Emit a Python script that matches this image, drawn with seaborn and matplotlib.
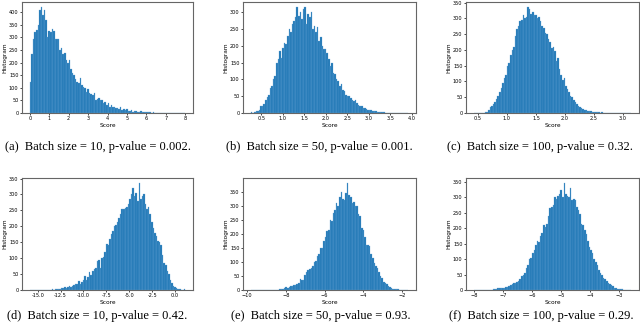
import numpy as np
import pandas as pd
import matplotlib
matplotlib.use("Agg")
import matplotlib.pyplot as plt
import seaborn as sns
from matplotlib.ticker import MultipleLocator, FormatStrFormatter

# bin counts (100 equal bins per panel)
a_range = (0.0, 8.0)
a_counts = [125, 235, 295, 320, 330, 350, 410, 420, 390, 410,
            370, 300, 325, 320, 335, 325, 295, 295, 295, 250,
            260, 235, 240, 210, 200, 210, 175, 160, 150, 135,
            125, 120, 140, 110, 105, 100, 85, 95, 80, 75,
            70, 80, 50, 55, 58, 50, 52, 40, 45, 30,
            38, 25, 30, 22, 25, 18, 20, 15, 22, 12,
            14, 10, 15, 8, 8, 12, 5, 6, 8, 4,
            4, 6, 3, 4, 5, 3, 2, 2, 1, 2,
            1, 1, 1, 0, 1, 1, 0, 1, 0, 0,
            1, 0, 1, 0, 0, 0, 1, 0, 0, 1]

b_range = (0.257, 3.91)
b_counts = [2, 0, 3, 5, 6, 10, 20, 22, 28, 40, 48,
            55, 75, 80, 100, 110, 150, 160, 185, 165, 195,
            210, 205, 230, 250, 240, 265, 275, 285, 315, 290,
            300, 280, 310, 315, 265, 295, 285, 300, 250, 260,
            240, 255, 215, 225, 200, 190,
            190, 180, 160, 140, 150, 120, 115, 100, 95, 80,
            85, 70, 65, 55, 50, 52, 45, 40, 35, 38,
            30, 25, 22, 20, 15, 14, 12, 10, 9, 8,
            6, 6, 5, 4, 3, 3, 2, 2,
            1, 1, 0, 1, 0, 0, 1, 0, 1, 0, 0, 0, 0, 0, 1]

c_range = (0.43, 3.14)
c_counts = [1, 0, 1, 1, 0, 1, 1, 2, 3, 10,
            18, 22, 28, 35, 45, 55, 65, 80, 95, 110,
            120, 150, 160, 185, 200, 210, 245, 265, 275, 290,
            295, 310, 300, 305, 335, 330, 315, 320, 310, 312,
            300, 305, 290, 275, 270, 255, 250, 235, 225, 205,
            210, 195, 165, 175, 140, 120, 105, 110, 85, 75,
            65, 55, 50, 40, 35, 30, 22, 20, 15, 12,
            10, 8, 7, 5, 5, 4, 3, 3, 2, 2,
            1, 2, 1, 1, 0, 1, 1, 0, 1, 0,
            1, 0, 0, 1, 0, 0, 0, 0, 0, 1]

d_range = (-15.87, 1.12)
d_counts = [1, 0, 0, 0, 0, 0, 0, 0, 0, 1,
            0, 0, 1, 1, 2, 1, 2, 3, 2, 4,
            6, 5, 8, 7, 10, 12, 10, 14, 15, 18,
            20, 28, 18, 25, 30, 45, 32, 40, 55, 48,
            60, 65, 68, 90, 95, 70, 100, 105, 120, 145,
            140, 160, 175, 185, 200, 205, 215, 225, 240, 255,
            255, 258, 262, 270, 285, 300, 320, 295, 305, 280,
            335, 285, 295, 300, 270, 255, 260, 240, 215, 195,
            180, 170, 155, 150, 140, 110, 85, 80, 60, 50,
            30, 22, 12, 8, 5, 3, 2, 1, 1, 2]

e_range = (-9.81, -1.68)
e_counts = [1, 0, 0, 0, 0, 0, 0, 0, 0, 0,
            0, 0, 0, 0, 1, 0, 1, 1, 2, 3,
            5, 8, 10, 8, 12, 15, 15, 18, 17, 22,
            25, 38, 35, 35, 55, 65, 70, 75, 80, 85,
            100, 105, 120, 130, 150, 150, 175, 190, 210, 215,
            250, 245, 275, 285, 310, 300, 330, 350, 325, 320,
            345, 380, 340, 330, 310, 315, 300, 300, 270, 265,
            220, 215, 190, 160, 160, 155, 130, 115, 95, 85,
            80, 65, 50, 42, 30, 25, 22, 15, 10, 8,
            5, 3, 3, 2, 1, 1, 0, 0, 0, 1]

f_range = (-8.02, -2.59)
f_counts = [1, 0, 0, 0, 0, 1, 0, 0, 1, 0,
            1, 1, 2, 2, 3, 5, 5, 6, 8, 8,
            10, 10, 12, 15, 20, 22, 22, 25, 28, 35,
            45, 50, 55, 70, 80, 100, 105, 120, 130, 145,
            160, 155, 175, 185, 210, 205, 215, 240, 265, 270,
            275, 300, 295, 305, 310, 325, 300, 345, 310, 305,
            300, 330, 290, 295, 290, 270, 260, 245, 215, 210,
            195, 180, 160, 140, 130, 120, 100, 90, 80, 65,
            55, 50, 40, 35, 28, 22, 18, 15, 12, 8,
            6, 4, 3, 2, 2, 1, 1, 0, 0, 1]

captions = ["(a)  Batch size = 10, p-value = 0.002.",
            "(b)  Batch size = 50, p-value = 0.001.",
            "(c)  Batch size = 100, p-value = 0.32.",
            "(d)  Batch size = 10, p-value = 0.42.",
            "(e)  Batch size = 50, p-value = 0.93.",
            "(f)  Batch size = 100, p-value = 0.29."]
x_steps = [1, 0.5, 0.5, 2.5, 2, 1]


def draw_hist(ax, counts, data_range, xstep):
    """
    draw one precomputed histogram with seaborn
    """
    edges = np.linspace(data_range[0], data_range[1], len(counts) + 1)
    df = pd.DataFrame({"score": (edges[:-1] + edges[1:]) / 2,
                       "n": counts})
    sns.histplot(data=df, x="score", weights="n", bins=list(edges), ax=ax,
                 color="#1f77b4", alpha=1, edgecolor="#6aa6d8",
                 linewidth=0.2)
    ax.xaxis.set_major_locator(MultipleLocator(xstep))
    ax.yaxis.set_major_locator(MultipleLocator(50))
    if xstep in (0.5, 2.5):
        ax.xaxis.set_major_formatter(FormatStrFormatter("%.1f"))
    ax.tick_params(labelsize=3.6, length=1.5, width=0.5, pad=1)
    ax.set_xlabel("Score", fontsize=4.2, labelpad=1)
    ax.set_ylabel("Histogram", fontsize=4.2, labelpad=1)
    for sp in ax.spines.values():
        sp.set_color("#666666")
        sp.set_linewidth(0.8)


fig = plt.figure(figsize=(6.4, 3.33), dpi=100)

# axes boxes in pixels: left, top, right, bottom
boxes = [(22, 2, 193, 113), (243, 2, 416, 113), (466, 2, 639, 113),
         (22, 178, 193, 290), (243, 178, 416, 290), (466, 178, 639, 290)]
cap_pos = [(98, 147), (319, 147), (540, 147),
           (97, 316), (321, 316), (541, 316)]
all_counts = [a_counts, b_counts, c_counts, d_counts, e_counts, f_counts]
all_ranges = [a_range, b_range, c_range, d_range, e_range, f_range]

for i in range(6):
    l, t, r, b = boxes[i]
    ax = fig.add_axes([l / 640, 1 - b / 333, (r - l) / 640, (b - t) / 333])
    draw_hist(ax, all_counts[i], all_ranges[i], x_steps[i])
    cx, cy = cap_pos[i]
    fig.text(cx / 640, 1 - cy / 333, captions[i], ha="center", va="center",
             fontsize=9.0, family="Liberation Serif")

fig.savefig("out.png", dpi=100)
